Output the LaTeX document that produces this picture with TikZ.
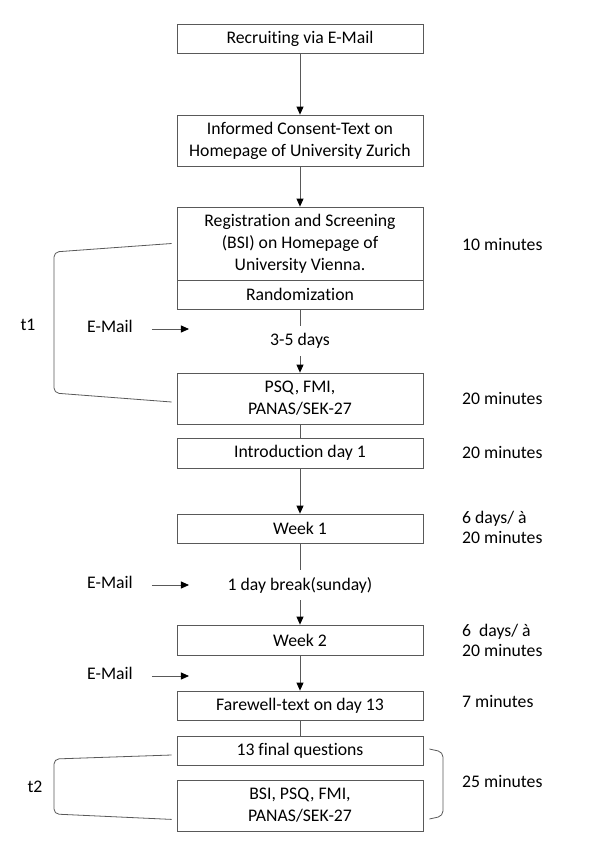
\documentclass[tikz,border=0pt]{standalone}
\usepackage{fontspec}
\setmainfont{Carlito}[Ligatures=NoCommon]
\usetikzlibrary{arrows.meta}

\tikzset{
  stage/.style={draw=black!65, line width=0.8pt, minimum width=246pt, inner sep=0pt, align=center},
  note/.style={inner sep=0pt, align=left, anchor=west, font=\fontsize{17.7}{20}\selectfont},
  flow/.style={draw=black!65, line width=0.8pt, -{Triangle[length=8pt,width=7pt,color=black]}},
  link/.style={draw=black!65, line width=0.8pt},
}

\begin{document}
\begin{tikzpicture}[x=1pt, y=-1pt, every node/.style={font=\fontsize{17.7}{22}\selectfont}]
    \useasboundingbox (0,0) rectangle (600,867);
    % main column
    \node[stage, minimum height=29pt] (recruit) at (300,38.5) {Recruiting via E-Mail};
    \node[stage, minimum height=51pt] (consent) at (300,140.5) {Informed Consent-Text on\\Homepage of University Zurich};
    \node[stage, minimum height=73pt] (reg) at (300,243.5) {Registration and Screening\\(BSI) on Homepage of\\University Vienna.};
    \node[stage, minimum height=29pt] (rand) at (300,294.5) {Randomization};
    \node[inner sep=0pt, minimum height=30pt] (days) at (300,341) {3-5 days};
    \node[stage, minimum height=51pt] (psq) at (300,398.5) {PSQ, FMI,\\PANAS/SEK-27};
    \node[stage, minimum height=30pt] (intro) at (300,453) {Introduction day 1};
    \node[stage, minimum height=29pt] (week1) at (300,528.5) {Week 1};
    \node[inner sep=0pt, minimum height=30pt] (break) at (300,585) {1 day break(sunday)};
    \node[stage, minimum height=30pt] (week2) at (300,640) {Week 2};
    \node[stage, minimum height=29pt] (farewell) at (300,705.5) {Farewell-text on day 13};
    \node[stage, minimum height=29pt] (final) at (300,750.5) {13 final questions};
    \node[stage, minimum height=51pt] (bsi) at (300,805.5) {BSI, PSQ, FMI,\\PANAS/SEK-27};

    \foreach \from/\to in
    {recruit/consent,consent/reg,days/psq,intro/week1,break/week2,week2/farewell}
    \draw[flow] (\from) -- (\to);
    \foreach \from/\to in
    {rand/days,psq/intro,week1/break,farewell/final}
    \draw[link] (\from) -- (\to);

    % durations
    \node[note] (d1) at (462,244) {10 minutes};
    \node[note] (d2) at (462,398) {20 minutes};
    \node[note] (d3) at (462,452) {20 minutes};
    \node[note] (d4) at (462,527) {6 days/ à\\20 minutes};
    \node[note] (d5) at (462,640) {6~ days/ à\\20 minutes};
    \node[note] (d6) at (462,701) {7 minutes};
    \node[note] (d7) at (462,781) {25 minutes};

    % e-mails
    \node[inner sep=0pt] (mail1) at (110,326) {E-Mail};
    \node[inner sep=0pt] (mail2) at (110,582) {E-Mail};
    \node[inner sep=0pt] (mail3) at (110,673) {E-Mail};
    \foreach \m in {mail1,mail2,mail3}
    \draw[flow] ([xshift=19pt,yshift=-3pt]\m.east) -- ++(37,0);

    % time points
    \node[inner sep=0pt] (t1) at (28,325) {t1};
    \node[inner sep=0pt] (t2) at (35,787) {t2};
    \draw[link, rounded corners=5pt] ([xshift=-5pt]reg.west) -- (54,252) -- (54,393) -- ([xshift=-5pt,yshift=-3.5pt]psq.west);
    \draw[link, rounded corners=5pt] ([xshift=-5pt,yshift=-4.5pt]final.west) -- (54,759) -- (54,814) -- ([xshift=-5pt,yshift=12pt]bsi.south west);
    \draw[link, rounded corners=5pt] ([xshift=6pt,yshift=1.5pt]final.east) -- (443,752) -- (443,816) -- ([xshift=6pt,yshift=-13.5pt]bsi.east);
\end{tikzpicture}
\end{document}
